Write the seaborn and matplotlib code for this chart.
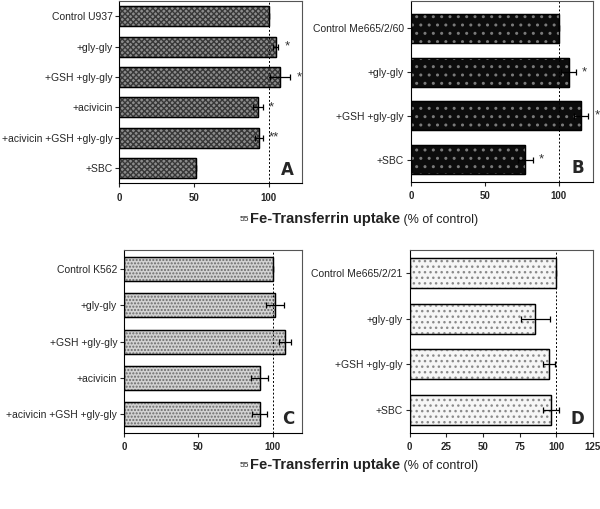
import seaborn as sns
import matplotlib.pyplot as plt
from matplotlib.patches import Rectangle

sns.set_style('white')
plt.rcParams['font.family'] = ['Liberation Sans', 'DejaVu Sans']

# panel A: U937
labels_a = ['Control U937', '+gly-gly', '+GSH +gly-gly', '+acivicin', '+acivicin +GSH +gly-gly', '+SBC']
values_a = [100, 104.5, 107.5, 92.5, 93.3, 51.2]
errors_a = [0, 2, 7, 3.3, 2.5, 0]
stars_a = ['', '*', '*', '*', '**', '']

# panel B: Me665/2/60
labels_b = ['Control Me665/2/60', '+gly-gly', '+GSH +gly-gly', '+SBC']
values_b = [100, 106.7, 115, 77.4]
errors_b = [0, 5, 5, 5]
stars_b = ['', '*', '*', '*']

# panel C: K562
labels_c = ['Control K562', '+gly-gly', '+GSH +gly-gly', '+acivicin', '+acivicin +GSH +gly-gly']
values_c = [100, 101.8, 108, 91.2, 91.2]
errors_c = [0, 6, 4, 5.5, 5]
stars_c = ['', '', '', '', '']

# panel D: Me665/2/21
labels_d = ['Control Me665/2/21', '+gly-gly', '+GSH +gly-gly', '+SBC']
values_d = [100, 85.7, 95, 96.4]
errors_d = [0, 10, 4, 5.5]
stars_d = ['', '', '', '']

xticks_abc = [0, 50, 100]
xticks_d = [0, 25, 50, 75, 100, 125]


def draw_panel(ax, labels, values, errors, stars, letter, face, hatch, hatch_col,
               xlim, xticks, ylim):
    sns.barplot(x=values, y=labels, orient='h', color=face, saturation=1,
                edgecolor='black', linewidth=0.9, width=0.66, errorbar=None, ax=ax)
    for p in ax.patches:
        ax.add_patch(Rectangle(p.get_xy(), p.get_width(), p.get_height(), facecolor='none',
                               edgecolor=hatch_col, hatch=hatch, linewidth=0, zorder=p.get_zorder() + 0.1))
        ax.add_patch(Rectangle(p.get_xy(), p.get_width(), p.get_height(), facecolor='none',
                               edgecolor='black', linewidth=0.9, zorder=p.get_zorder() + 0.2))
    pos = list(range(len(values)))
    ax.errorbar(values, pos, xerr=errors, fmt='none', ecolor='black',
                elinewidth=0.9, capsize=2.2, capthick=0.9, zorder=5)
    for i, s in enumerate(stars):
        if s:
            ax.text(values[i] + errors[i] + 4, i, s, ha='left', va='center', fontsize=9.5,
                    color='#333333', clip_on=False)
    ax.axvline(100, color='black', linestyle=(0, (2, 2)), linewidth=0.7, zorder=1)
    ax.set_xlim(*xlim)
    ax.set_ylim(*ylim)
    ax.set_xticks(xticks)
    ax.set_xticklabels([str(t) for t in xticks], fontsize=7, fontweight='bold')
    ax.tick_params(axis='y', labelsize=7.5, length=3, width=0.8, direction='out', left=True, pad=2)
    ax.tick_params(axis='x', length=3, width=0.8, direction='out', bottom=True, pad=4)
    ax.set_xlabel('')
    ax.set_ylabel('')
    for sp in ax.spines.values():
        sp.set_visible(True)
        sp.set_color('#555555')
        sp.set_linewidth(0.8)
    ax.spines['left'].set_color('black')
    ax.spines['bottom'].set_color('black')
    ax.text(0.955, 0.075, letter, transform=ax.transAxes, ha='right', va='center',
            fontsize=12, fontweight='bold', family='DejaVu Sans')


def xlabel(fig, y):
    t1 = fig.text(0.40, y, '55', fontsize=6, va='baseline', ha='left', color='#222222')
    t2 = fig.text(0, 0, 'Fe-Transferrin uptake', fontsize=10.5, fontweight='bold', color='#222222')
    t3 = fig.text(0, 0, ' (% of control)', fontsize=9, color='#222222')
    fig.canvas.draw()
    r = fig.canvas.get_renderer()
    b1 = t1.get_window_extent(r)
    inv = fig.transFigure.inverted()
    x2 = inv.transform((b1.x1, 0))[0]
    t2.set_position((x2, y - 0.003))
    b2 = t2.get_window_extent(r)
    x3 = inv.transform((b2.x1, 0))[0]
    t3.set_position((x3, y - 0.003))


fig = plt.figure(figsize=(6, 5.09), dpi=100)
ax_a = fig.add_axes([0.199, 0.640, 0.305, 0.358])
ax_b = fig.add_axes([0.685, 0.643, 0.303, 0.355])
ax_c = fig.add_axes([0.207, 0.150, 0.297, 0.358])
ax_d = fig.add_axes([0.683, 0.150, 0.305, 0.358])

draw_panel(ax_a, labels_a, values_a, errors_a, stars_a, 'A', '#8c8c8c', 'xxxxxx', '#383838',
           (0, 122.5), xticks_abc, (5.5, -0.5))
draw_panel(ax_b, labels_b, values_b, errors_b, stars_b, 'B', '#0c0c0c', '..', '#7a7a7a',
           (0, 123), xticks_abc, (3.5, -0.62))
draw_panel(ax_c, labels_c, values_c, errors_c, stars_c, 'C', '#d2d2d2', '.....', '#6a6a6a',
           (0, 120), xticks_abc, (4.5, -0.5))
draw_panel(ax_d, labels_d, values_d, errors_d, stars_d, 'D', '#f6f6f6', '...', '#8a8a8a',
           (0, 125), xticks_d, (3.5, -0.5))

xlabel(fig, 0.565)
xlabel(fig, 0.082)

fig.savefig('out.png', dpi=100)
